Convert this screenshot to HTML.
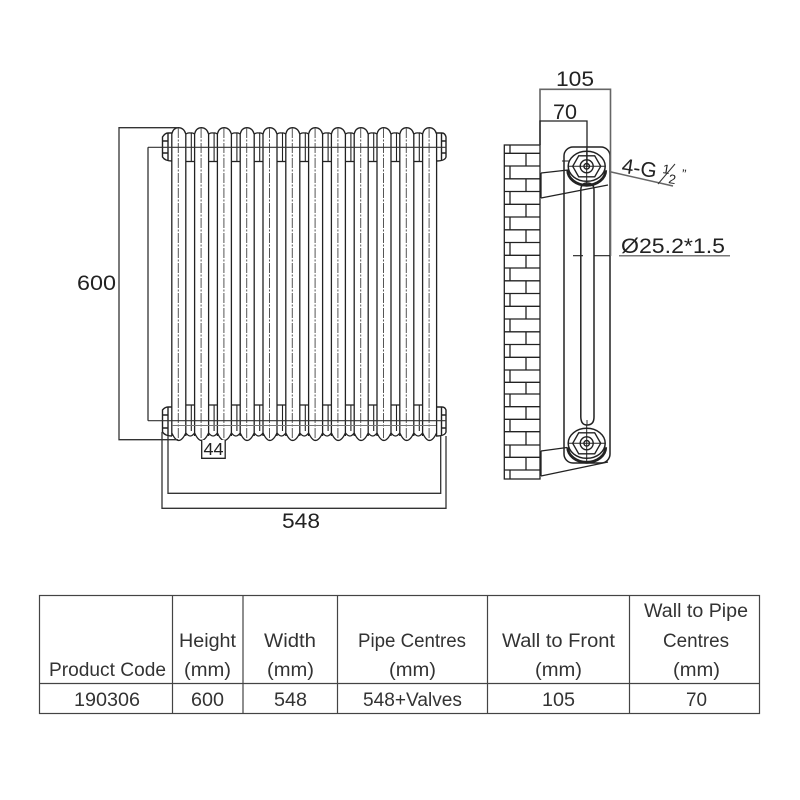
<!DOCTYPE html>
<html><head><meta charset="utf-8"><style>
html,body{margin:0;padding:0;background:#fff}
svg{display:block}
text{font-family:"Liberation Sans",sans-serif;fill:#222}
.t{font-size:19px;fill:#333}
.d{font-size:21.5px;fill:#222}
</style></head><body>
<svg width="800" height="800" viewBox="0 0 800 800" xmlns="http://www.w3.org/2000/svg">
<defs>
<g id="col" fill="none" stroke="#222" stroke-width="1.3">
<path d="M-6.5 436V134Q-5 127.7 .3 127.7Q5.5 127.7 7.5 134V436"/>
<path d="M-6.5 433Q-3 440.5 .3 440.5Q4 440.5 7.5 433"/>
<path d="M0 128V440" stroke="#555" stroke-width="1" stroke-dasharray="10 1.5 2 1.5"/>
</g>
<g id="link" fill="none" stroke="#222" stroke-width="1.3">
<path d="M7.5 134Q10 132.5 12 133Q14 132.5 16.3 134"/>
<path d="M7.5 161.5H16.3"/>
<path d="M13 133V161.5" stroke-width="1.1"/>
<path d="M7.5 405H16.3"/>
<path d="M13 405V431" stroke-width="1.1"/>
<path d="M7.5 433Q10 436 12 436Q14 436 16.3 433"/>
</g>
<g id="hub" fill="none" stroke="#222">
<ellipse rx="18.5" ry="15" stroke-width="1.5"/>
<polygon points="-14,0 -8,-10.5 8,-10.5 14,0 8,10.5 -8,10.5" stroke-width="1.4"/>
<circle r="6.5" stroke-width="1.4"/>
<circle r="2.8" stroke-width="1.4"/>
<path d="M-18 0H18M0 -18V18" stroke-width="1"/>
<path d="M-19 4A19 15 0 0 0 19 4" stroke-width="2.8"/>
</g>
</defs>

<!-- Front view -->
<g transform="translate(178.3 0)">
<use href="#col" x="0"/><use href="#col" x="22.8"/><use href="#col" x="45.6"/><use href="#col" x="68.4"/>
<use href="#col" x="91.2"/><use href="#col" x="114"/><use href="#col" x="136.8"/><use href="#col" x="159.6"/>
<use href="#col" x="182.4"/><use href="#col" x="205.2"/><use href="#col" x="228"/><use href="#col" x="250.8"/>
<use href="#link" x="0"/><use href="#link" x="22.8"/><use href="#link" x="45.6"/><use href="#link" x="68.4"/>
<use href="#link" x="91.2"/><use href="#link" x="114"/><use href="#link" x="136.8"/><use href="#link" x="159.6"/>
<use href="#link" x="182.4"/><use href="#link" x="205.2"/><use href="#link" x="228"/>
</g>
<g fill="none" stroke="#222" stroke-width="1.4">
<path d="M172 133H168Q165 133 162.5 137V157Q165 161 172 161"/>
<path d="M168 133V161"/>
<path d="M162.5 141H168M162.5 153H168"/>
<path d="M172 407H168Q165 407 162.5 410V432Q165 436 172 436"/>
<path d="M168 407V436"/>
<path d="M162.5 415H168M162.5 428H168"/>
<path d="M436 133H442Q445 133 446 137V157Q445 161 436 161"/>
<path d="M441.5 133V161"/>
<path d="M441.5 141H446M441.5 153H446"/>
<path d="M436 407H442Q445 407 446 410V432Q445 436 436 436"/>
<path d="M441.5 407V436"/>
<path d="M441.5 415H446M441.5 428H446"/>
</g>
<path d="M148 147.3H446M148 420.7H446" fill="none" stroke="#333" stroke-width="1.1"/>
<path d="M172 425.5H436" stroke="#777" stroke-width="1"/>

<!-- Front dimensions -->
<g fill="none" stroke="#333" stroke-width="1.3">
<path d="M178 127.7H119V439.7H178"/>
<path d="M148 147.3V420.7"/>
<path d="M168 436V493.3H440.7V436"/>
<path d="M162 432V508.3H446V436"/>
</g>
<path d="M201.7 440V458.3H225.2V440" fill="#fff" stroke="#222" stroke-width="1.3"/>
<text x="213.5" y="455" text-anchor="middle" font-size="17.5" textLength="20" lengthAdjust="spacingAndGlyphs">44</text>
<text class="d" x="77" y="290" textLength="39" lengthAdjust="spacingAndGlyphs">600</text>
<text class="d" x="282" y="528" textLength="38" lengthAdjust="spacingAndGlyphs">548</text>

<!-- Wall -->
<g fill="none" stroke="#222" stroke-width="1.3">
<rect x="504.3" y="145" width="35.7" height="334"/>
<path d="M504.3 153.3H540M504.3 166H540M504.3 178.8H540M504.3 191.5H540M504.3 204.3H540M504.3 217H540M504.3 229.8H540M504.3 242.5H540M504.3 255.3H540M504.3 268H540M504.3 280.8H540M504.3 293.5H540M504.3 306.3H540M504.3 319H540M504.3 331.8H540M504.3 344.5H540M504.3 357.3H540M504.3 370H540M504.3 382.3H540M504.3 394H540M504.3 406.7H540M504.3 419.3H540M504.3 431.7H540M504.3 445H540M504.3 457.3H540M504.3 470H540"/>
<path d="M510 145V153.3M526 153.3V166M510 166V178.8M526 178.8V191.5M510 191.5V204.3M526 204.3V217M510 217V229.8M526 229.8V242.5M510 242.5V255.3M526 255.3V268M510 268V280.8M526 280.8V293.5M510 293.5V306.3M526 306.3V319M510 319V331.8M526 331.8V344.5M510 344.5V357.3M526 357.3V370M510 370V382.3M526 382.3V394M510 394V406.7M526 406.7V419.3M510 419.3V431.7M526 431.7V445M510 445V457.3M526 457.3V470M510 470V479"/>
</g>

<!-- Side view -->
<rect x="564" y="147" width="46" height="316" rx="9" fill="none" stroke="#222" stroke-width="1.5"/>
<path d="M580.8 190V417Q581 425 587 425Q594 425 594 417V190Q594 183 587 183Q581 183 580.8 190Z" fill="none" stroke="#222" stroke-width="1.5"/>
<path d="M541 173L568 170M541 198L608 185M541 451L567 447.5M541 476L608 462" fill="none" stroke="#222" stroke-width="1.3"/>
<path d="M541 173V198M541 451V476" stroke="#222" stroke-width="1.3"/>
<path d="M587 183V186M587 420V425" stroke="#333" stroke-width="1"/>
<path d="M562 161H569" stroke="#222" stroke-width="1"/>
<use href="#hub" x="586.7" y="166.3"/>
<use href="#hub" x="586.7" y="443.3"/>

<!-- Side dimensions -->
<path d="M540 145V89.3H610.5V256" fill="none" stroke="#666" stroke-width="1.6"/>
<path d="M540 145V121H587V167" fill="none" stroke="#222" stroke-width="1.3"/>
<text class="d" x="556" y="86" textLength="38" lengthAdjust="spacingAndGlyphs">105</text>
<text class="d" x="553" y="119" textLength="24" lengthAdjust="spacingAndGlyphs">70</text>
<path d="M609 171.5L673 186" stroke="#666" stroke-width="1.5"/>
<text x="621" y="172.5" font-size="21" transform="rotate(9 621 172.5)">4-G</text>
<text x="662" y="173" font-size="13" transform="rotate(9 662 173)">1</text>
<path d="M658 184L675 164" stroke="#333" stroke-width="1"/>
<text x="668" y="183" font-size="13" transform="rotate(9 668 183)">2</text>
<text x="681" y="178" font-size="13" transform="rotate(9 681 178)">”</text>
<text class="d" x="621" y="253" textLength="104" lengthAdjust="spacingAndGlyphs">Ø25.2*1.5</text>
<path d="M619 255.7H730" stroke="#777" stroke-width="1.5"/>
<path d="M573 255.7H583M594 255.7H610" stroke="#222" stroke-width="1.2"/>

<!-- Table -->
<g fill="none" stroke="#444" stroke-width="1.2">
<rect x="39.5" y="595.5" width="720" height="118"/>
<path d="M39.5 683.5H759.5M172.5 595.5V713.5M243 595.5V713.5M337.5 595.5V713.5M487.5 595.5V713.5M629.5 595.5V713.5"/>
</g>
<g class="t">
<text class="t" x="49" y="676" textLength="117" lengthAdjust="spacingAndGlyphs">Product Code</text>
<text class="t" x="179" y="647" textLength="57" lengthAdjust="spacingAndGlyphs">Height</text>
<text class="t" x="184" y="676" textLength="47" lengthAdjust="spacingAndGlyphs">(mm)</text>
<text class="t" x="264" y="647" textLength="52" lengthAdjust="spacingAndGlyphs">Width</text>
<text class="t" x="267" y="676" textLength="47" lengthAdjust="spacingAndGlyphs">(mm)</text>
<text class="t" x="358" y="647" textLength="108" lengthAdjust="spacingAndGlyphs">Pipe Centres</text>
<text class="t" x="389" y="676" textLength="47" lengthAdjust="spacingAndGlyphs">(mm)</text>
<text class="t" x="502" y="647" textLength="113" lengthAdjust="spacingAndGlyphs">Wall to Front</text>
<text class="t" x="535" y="676" textLength="47" lengthAdjust="spacingAndGlyphs">(mm)</text>
<text class="t" x="644" y="617" textLength="104" lengthAdjust="spacingAndGlyphs">Wall to Pipe</text>
<text class="t" x="663" y="647" textLength="66" lengthAdjust="spacingAndGlyphs">Centres</text>
<text class="t" x="673" y="676" textLength="47" lengthAdjust="spacingAndGlyphs">(mm)</text>
<text class="t" x="74" y="706" textLength="66" lengthAdjust="spacingAndGlyphs">190306</text>
<text class="t" x="191" y="706" textLength="33" lengthAdjust="spacingAndGlyphs">600</text>
<text class="t" x="274" y="706" textLength="33" lengthAdjust="spacingAndGlyphs">548</text>
<text class="t" x="363" y="706" textLength="99" lengthAdjust="spacingAndGlyphs">548+Valves</text>
<text class="t" x="542" y="706" textLength="33" lengthAdjust="spacingAndGlyphs">105</text>
<text class="t" x="686" y="706" textLength="21" lengthAdjust="spacingAndGlyphs">70</text>
</g>
</svg>
</body></html>
